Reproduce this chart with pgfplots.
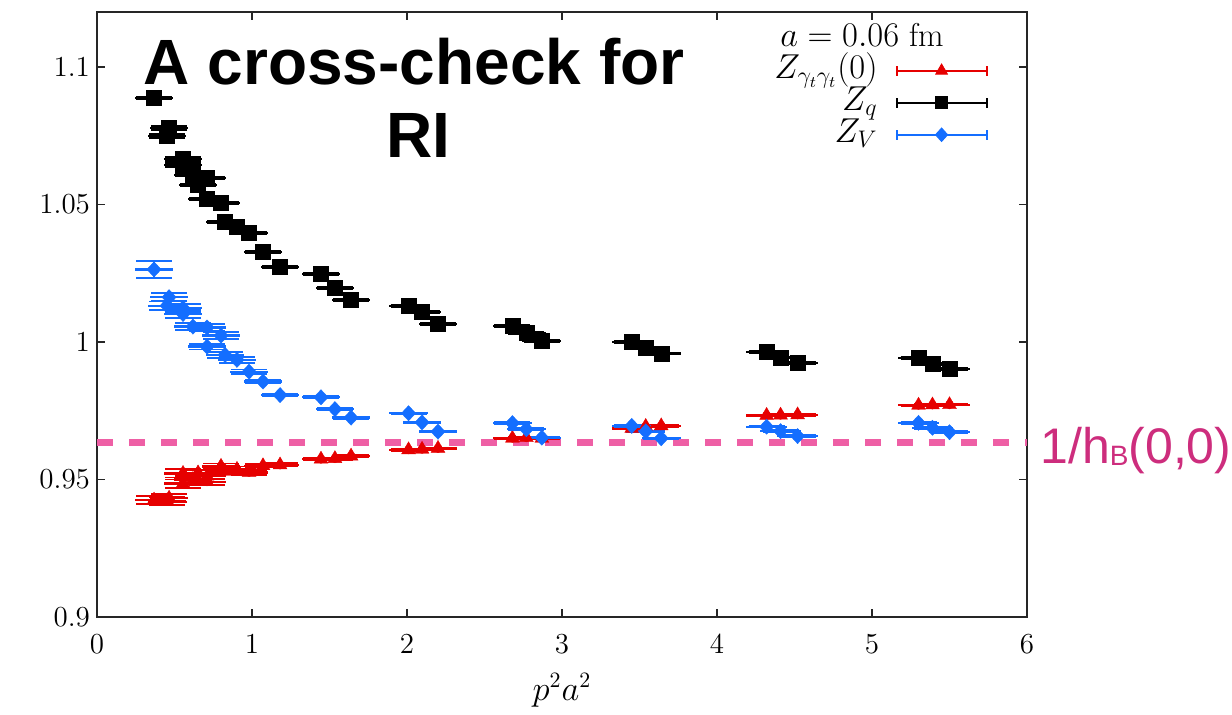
\documentclass[border=0pt]{standalone}
\usepackage{fontspec}
\usepackage{pgfplots}
\usepackage{pgfplotstable}
\pgfplotsset{compat=1.18}
\newfontfamily\helv{Liberation Sans}
\definecolor{zred}{RGB}{230,0,0}
\definecolor{zblue}{RGB}{20,110,255}
\definecolor{hpink}{RGB}{238,95,165}
\definecolor{hlab}{RGB}{205,45,125}

\pgfplotstableread{
x y ex ey
0.368 0.9425 0.125 0.0015
0.465 0.9432 0.125 0.0015
0.452 0.9422 0.125 0.0015
0.555 0.9522 0.125 0.0015
0.555 0.9485 0.125 0.0015
0.619 0.9500 0.125 0.0012
0.710 0.9492 0.125 0.0012
0.652 0.9524 0.125 0.0012
0.710 0.9512 0.125 0.0012
0.800 0.9548 0.125 0.0010
0.826 0.9530 0.125 0.0010
0.903 0.9537 0.125 0.0010
0.981 0.9526 0.125 0.0010
1.071 0.9550 0.125 0.0006
1.181 0.9553 0.125 0.0006
1.445 0.9574 0.125 0.0004
1.535 0.9576 0.125 0.0004
1.639 0.9585 0.125 0.0004
2.010 0.9608 0.125 0.0003
2.097 0.9610 0.125 0.0003
2.200 0.9613 0.125 0.0003
2.680 0.9650 0.125 0.0003
2.770 0.9652 0.125 0.0003
2.870 0.9650 0.125 0.0003
3.450 0.9686 0.125 0.0003
3.540 0.9693 0.125 0.0003
3.640 0.9695 0.125 0.0003
4.320 0.9733 0.13 0.0003
4.410 0.9734 0.13 0.0003
4.520 0.9735 0.13 0.0003
5.300 0.9770 0.13 0.0003
5.390 0.9771 0.13 0.0003
5.500 0.9772 0.13 0.0003
}\zgg

\pgfplotstableread{
x y ex ey
0.368 1.0888 0.125 0.0003
0.465 1.0778 0.125 0.0008
0.452 1.0749 0.125 0.0008
0.555 1.0665 0.125 0.0008
0.555 1.0644 0.125 0.0008
0.619 1.0607 0.125 0.0005
0.710 1.0596 0.125 0.0005
0.652 1.0571 0.125 0.0005
0.710 1.0520 0.125 0.0005
0.800 1.0505 0.125 0.0004
0.826 1.0436 0.125 0.0004
0.903 1.0418 0.125 0.0004
0.981 1.0396 0.125 0.0004
1.071 1.0327 0.125 0.0003
1.181 1.0273 0.125 0.0003
1.445 1.0247 0.125 0.0003
1.535 1.0196 0.125 0.0003
1.639 1.0153 0.125 0.0003
2.010 1.0131 0.125 0.0003
2.097 1.0109 0.125 0.0003
2.200 1.0065 0.125 0.0003
2.680 1.0058 0.125 0.0003
2.770 1.0033 0.125 0.0003
2.870 1.0004 0.125 0.0003
3.450 1.0000 0.125 0.0003
3.540 0.9980 0.125 0.0003
3.640 0.9958 0.125 0.0003
4.320 0.9964 0.13 0.0003
4.410 0.9944 0.13 0.0003
4.520 0.9924 0.13 0.0003
5.300 0.9942 0.13 0.0003
5.390 0.9920 0.13 0.0003
5.500 0.9902 0.13 0.0003
}\zq

\pgfplotstableread{
x y ex ey
0.368 1.0264 0.125 0.0032
0.465 1.0163 0.125 0.0015
0.452 1.0132 0.125 0.0015
0.555 1.0123 0.125 0.0015
0.555 1.0102 0.125 0.0015
0.619 1.0056 0.125 0.0012
0.710 1.0053 0.125 0.0012
0.800 1.0023 0.125 0.0012
0.710 0.9983 0.125 0.0010
0.826 0.9953 0.125 0.0010
0.903 0.9935 0.125 0.0010
0.981 0.9892 0.125 0.0008
1.071 0.9856 0.125 0.0006
1.181 0.9807 0.125 0.0005
1.445 0.9799 0.125 0.0004
1.535 0.9756 0.125 0.0004
1.639 0.9725 0.125 0.0004
2.010 0.9741 0.125 0.0003
2.097 0.9708 0.125 0.0003
2.200 0.9674 0.125 0.0003
2.680 0.9705 0.125 0.0003
2.770 0.9683 0.125 0.0003
2.870 0.9652 0.125 0.0003
3.450 0.9695 0.125 0.0003
3.540 0.9675 0.125 0.0003
3.640 0.9650 0.125 0.0003
4.320 0.9692 0.13 0.0003
4.410 0.9676 0.13 0.0003
4.520 0.9658 0.13 0.0003
5.300 0.9706 0.13 0.0003
5.390 0.9688 0.13 0.0003
5.500 0.9672 0.13 0.0003
}\zv

\pgfplotsset{
  xerrbar/.style={only marks, mark=none, forget plot,
    error bars/.cd, x dir=both, x explicit, error mark=none,
    error bar style={line width=1.2pt}},
  yerrbar/.style={only marks, forget plot,
    error bars/.cd, y dir=both, y explicit, error mark=|,
    error mark options={mark size=9pt, line width=0.9pt},
    error bar style={line width=1.1pt}},
}

\begin{document}
\begin{tikzpicture}
\begin{axis}[
  scale only axis, width=465pt, height=302.5pt,
  xmin=0, xmax=6, ymin=0.9, ymax=1.12,
  xtick={0,1,2,3,4,5,6}, xticklabels={0,1,2,3,4,5,6},
  ytick={0.9,0.95,1,1.05,1.1}, yticklabels={0.9,0.95,1,1.05,1.1},
  tick align=inside, major tick length=4pt,
  axis line style={line width=1pt, black!85},
  tick style={line width=0.8pt, black!85},
  ticklabel style={font=\fontsize{14.5}{17}\selectfont},
  xticklabel style={yshift=-5pt},
  xlabel={$p^2a^2$},
  xlabel style={font=\fontsize{16}{19}\selectfont, at={(axis description cs:0.5,-0.1207)}, anchor=center},
  clip=false,
  legend image code/.code={
    \draw[#1, line width=1pt] (0pt,0pt) -- (45pt,0pt);
    \draw[#1, line width=1pt] (0pt,-2.5pt) -- (0pt,2.5pt) (45pt,-2.5pt) -- (45pt,2.5pt);
    \draw[#1] plot coordinates {(22.5pt,0pt)};
  },
  legend style={at={(rel axis cs:0.9645,0.9366)}, anchor=north east, draw=none, fill=none,
    font=\fontsize{16.5}{20}\selectfont, legend cell align=right,
    nodes={inner sep=0pt, text height=12pt, text depth=4pt},
    /tikz/column sep=9pt},
  legend plot pos=right,
]
\addplot[hpink, line width=3.5pt, dash pattern=on 8pt off 8pt, forget plot]
  coordinates {(0,0.9633) (6,0.9633)};

\addplot[zred, xerrbar] table[x=x, y=y, x error=ex] {\zgg};
\addplot[zred, mark=triangle*, mark size=4pt, mark options={solid, fill=zred, draw=zred, line width=0.2pt}, yerrbar]
  table[x=x, y=y, y error=ey] {\zgg};

\addplot[black, xerrbar] table[x=x, y=y, x error=ex] {\zq};
\addplot[black, mark=square*, mark size=3.75pt, mark options={solid, fill=black, draw=black, line width=0.2pt}, yerrbar]
  table[x=x, y=y, y error=ey] {\zq};

\addplot[zblue, xerrbar] table[x=x, y=y, x error=ex] {\zv};
\addplot[zblue, mark=diamond*, mark size=3.8pt, mark options={solid, fill=zblue, draw=zblue, line width=0.2pt, xscale=1.25}, yerrbar]
  table[x=x, y=y, y error=ey] {\zv};

\addlegendimage{zred, mark=triangle*, mark size=3.4pt, mark options={fill=zred}, only marks}
\addlegendentry{$Z_{\gamma_t\gamma_t}(0)$}
\addlegendimage{black, mark=square*, mark size=3pt, mark options={fill=black}, only marks}
\addlegendentry{$Z_q$}
\addlegendimage{zblue, mark=diamond*, mark size=3.4pt, mark options={fill=zblue, xscale=1.2}, only marks}
\addlegendentry{$Z_V$}

\node[font=\fontsize{16.5}{20}\selectfont, anchor=center] at (rel axis cs:0.8226,0.962) {$a=0.06$ fm};

\node[font=\helv\bfseries\fontsize{32}{36}\selectfont, anchor=base, inner sep=0pt] at (rel axis cs:0.341,0.881) {A cross-check for};
\node[font=\helv\bfseries\fontsize{32}{36}\selectfont, anchor=base, inner sep=0pt] at (rel axis cs:0.346,0.760) {RI};

\node[font=\helv\fontsize{25}{30}\selectfont, text=hlab, anchor=base west, inner sep=0pt, xshift=6.5pt] at (rel axis cs:1,0.2545)
  {1/h\raisebox{-1pt}{\fontsize{14}{16}\selectfont B}(0,0)};

\path (rel axis cs:0,0) ++(-48.5pt,-48.5pt) (rel axis cs:1,1) ++(102.5pt,6pt);
\end{axis}
\end{tikzpicture}
\end{document}
